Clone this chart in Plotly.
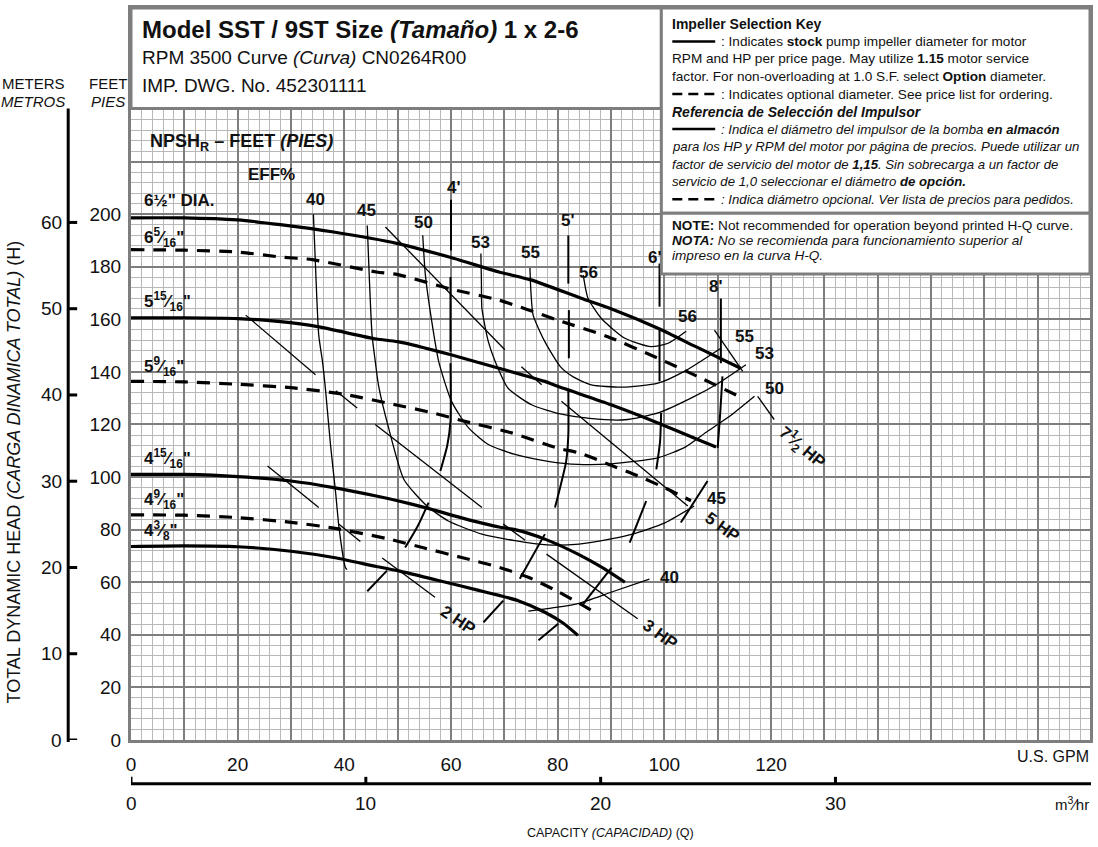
import plotly.graph_objects as go

# ---------------- data (capacity in US GPM, head in feet) ----------------
# impeller head curves
d650_q = [0, 10, 20, 28, 38, 50, 60, 69, 75, 84.4, 90, 98.8, 106, 114.3]
d650_h = [198.6, 198.6, 197.8, 196, 193.2, 188.8, 183.5, 178, 175, 168, 164, 156.6, 149.5, 141.4]
d6516_q = [0, 10, 20, 28, 34, 46, 50, 60, 69, 80, 89.4, 98.8, 106, 114]
d6516_h = [186.5, 186.3, 185.6, 183.7, 182.7, 178, 177, 171.5, 167.3, 159.7, 153.4, 145.2, 138.5, 130.7]
d51516_q = [0, 10, 20, 28, 35, 46, 50, 60, 69, 77.6, 80, 90, 98.8, 109.7]
d51516_h = [160.6, 160.6, 160.3, 159.1, 157.2, 152.5, 151.5, 146.5, 141.4, 136.4, 134.5, 127.5, 120.6, 111.4]
d5916_q = [0, 10, 20, 30, 40, 50, 56, 63, 71.4, 80, 84, 90, 95, 100, 105]
d5916_h = [136.4, 136.2, 135.3, 134, 131.5, 127.3, 124.7, 121, 116.8, 111, 109.2, 104.5, 100.5, 96, 91]
d41516_q = [0, 10, 20, 30, 38, 46, 50, 55.5, 62, 69, 72, 77.6, 83.8, 88, 92.6]
d41516_h = [101, 101, 100.2, 98.5, 96, 92.8, 91, 88.2, 84.5, 81, 80, 76.4, 70.7, 66, 60]
d4916_q = [0, 10, 20, 30, 38, 48, 55, 62, 69, 74.5, 80, 87]
d4916_h = [85.6, 85.5, 84.6, 82.8, 80.6, 76.6, 73, 69.4, 65.7, 61.9, 56.5, 48.6]
d438_q = [0, 10, 20, 30, 38, 46, 50, 59, 65, 69, 72.6, 77.6, 81, 83.8]
d438_h = [73.6, 73.8, 73.5, 71.8, 69.4, 66, 64.4, 60, 57, 55, 53, 48.6, 44.5, 39.8]

# efficiency iso-lines
eff40_q = [34.2, 34.6, 35.2, 35.9, 36.5, 37.4, 38.4, 39.0, 40.2, 40.5]
eff40_h = [200, 180, 154, 144, 132.6, 112.4, 93.4, 80.8, 65.6, 64.8]
eff40b_q = [74.5, 80, 84, 90, 97.2]
eff40b_h = [49, 50.5, 52, 56.2, 61.2]
eff45_q = [44.3, 44.7, 45.2, 45.8, 46.4, 48.3, 51.2, 55.5, 59.5, 65.8, 72, 78, 84, 90, 94, 100, 105.6]
eff45_h = [195.7, 175, 154, 144, 135, 118.7, 99, 89, 83.3, 78.3, 75.8, 74.2, 74.5, 76.5, 78.3, 82.5, 89]
eff50_q = [54.7, 55.2, 56.4, 57.7, 60.1, 63.3, 67, 72, 78.2, 83.8, 90, 98.8, 104, 108.1, 112.5, 116.9]
eff50_h = [192, 176.8, 159.1, 143.9, 128.8, 118.7, 112.4, 108.6, 106, 104.8, 105, 107.3, 111.5, 117.4, 123.5, 130.7]
eff53_q = [65.6, 65.7, 65.8, 67, 68.3, 70.7, 75.1, 80.5, 86, 92.6, 99, 105, 110, 115.3]
eff53_h = [185, 175, 164.1, 151.5, 143.9, 133.8, 127.5, 124, 122.3, 121.8, 124.5, 130, 135.5, 142.7]
eff55_q = [74.8, 75, 75.4, 77.6, 80.5, 83, 86.3, 92, 98.8, 104, 110.6]
eff55_h = [179.5, 170, 161.6, 151.5, 142, 138, 135.1, 134.2, 135.7, 140.5, 149]
eff56_q = [84.8, 85.2, 85.7, 88.2, 92.6, 97.5, 100.7, 104.1]
eff56_h = [176.8, 172, 167.9, 160.3, 152.8, 149.6, 150.9, 155.5]

# NPSHr lines (broken where printed with gaps)
npsh4_q = [60.0, 60.0, None, 59.9, 59.9, None, 59.9, 59.9, 59.3, 58.0, None, 55.8, 53.8, 51.4, None, 48.0, 44.3]
npsh4_h = [205.5, 186.2, None, 176.1, 147.7, None, 143.3, 121.2, 112, 102.3, None, 90.3, 81.5, 73.2, None, 64.4, 56.6]
npsh5_q = [82, 82, None, 82.1, 82.1, None, 82, 82, 81.6, 79.5, None, 77.6, 72.9, None, 69.8, 66.1]
npsh5_h = [191.9, 173.6, None, 163.5, 145.2, None, 132.6, 116.2, 106.1, 88.4, None, 78.3, 61.3, None, 53, 44.8]
npsh6_q = [99.1, 99.1, None, 99.1, 99.1, None, 99.4, 99.2, 98.5, None, 96.6, 93.5, None, 90.1, 84.8, None, 80.1, 76.4]
npsh6_h = [181.2, 164.8, None, 156.6, 136.4, None, 124.4, 113.6, 102.9, None, 90.9, 75.1, None, 65.6, 51.8, None, 44.2, 37.9]
npsh8_q = [110.6, 110.6, None, 110.9, 110.5, 110, None, 108.1, 103.1]
npsh8_h = [167.9, 143.3, None, 138.3, 125, 111.1, None, 98.5, 82.7]

# motor horsepower limit lines
hp2_q = [25.6, 35.2, None, 39, 43, None, 47.1, 57]
hp2_h = [104.2, 88.4, None, 82.1, 75.5, None, 69.2, 54.3]
hp3_q = [21.5, 34.6, None, 38.4, 42.4, None, 45.8, 65.8, None, 69.8, 73.9, None, 77.9, 95]
hp3_h = [161.6, 138.9, None, 132.8, 126.3, None, 120, 88.4, None, 82.1, 76, None, 70.7, 46.1]
hp5_q = [47.7, 70.1, None, 73.2, 77, None, 80.7, 104.4]
hp5_h = [195.1, 148.4, None, 142, 135.1, None, 128.8, 89]
hp75_q = [109.4, 114.7, None, 117.5, 120.6]
hp75_h = [155.9, 140.2, None, 130.7, 121.9]

# axis tick labels
gpm_ticks = [0, 20, 40, 60, 80, 100, 120]
feet_ticks = [0, 20, 40, 60, 80, 100, 120, 140, 160, 180, 200]
meter_ticks = [0, 10, 20, 30, 40, 50, 60]
m3hr_ticks = [0, 10, 20, 30]
FT_PER_M = 3.28084
GPM_PER_M3HR = 4.40287

# ---------------- layout geometry ----------------
W, H = 1098, 847
L, R, T, B = 131, 5, 5, 107
PW, PH = W - L - R, H - T - B
XMAX = PW / 5.35
YMAX = PH / 2.64


def px(x):
    return (x - L) / PW


def py(y):
    return (H - B - y) / PH


NARROW = "Liberation Sans, Arial, Helvetica, sans-serif"
SANS = "Liberation Sans, Arial, Helvetica, sans-serif"
GRID_MAJ = "#7e7e7e"
GRID_MIN = "#b8b8b8"

fig = go.Figure()


def line(q, h, width, dash=None):
    fig.add_trace(go.Scatter(x=q, y=h, mode="lines", connectgaps=False,
                             line=dict(color="black", width=width, dash=dash, shape="spline", smoothing=0.6),
                             hoverinfo="skip", showlegend=False))


DASH = "13px,9px"
line(d650_q, d650_h, 3.2)
line(d6516_q, d6516_h, 3.2, DASH)
line(d51516_q, d51516_h, 3.2)
line(d5916_q, d5916_h, 3.2, DASH)
line(d41516_q, d41516_h, 3.2)
line(d4916_q, d4916_h, 3.2, DASH)
line(d438_q, d438_h, 3.2)

for q, h in [(eff40_q, eff40_h), (eff40b_q, eff40b_h), (eff45_q, eff45_h), (eff50_q, eff50_h),
             (eff53_q, eff53_h), (eff55_q, eff55_h), (eff56_q, eff56_h)]:
    line(q, h, 1.3)

for q, h in [(npsh4_q, npsh4_h), (npsh5_q, npsh5_h), (npsh6_q, npsh6_h), (npsh8_q, npsh8_h)]:
    line(q, h, 2.0)

for q, h in [(hp2_q, hp2_h), (hp3_q, hp3_h), (hp5_q, hp5_h), (hp75_q, hp75_h)]:
    fig.add_trace(go.Scatter(x=q, y=h, mode="lines", connectgaps=False,
                             line=dict(color="black", width=1.3),
                             hoverinfo="skip", showlegend=False))

ann = []


def text(x, y, s, size, family=NARROW, xanchor="left", yanchor="middle",
         xref="paper", yref="paper", angle=0, color="#111"):
    ann.append(dict(x=x, y=y, xref=xref, yref=yref, text=s, showarrow=False,
                    xanchor=xanchor, yanchor=yanchor, textangle=angle,
                    font=dict(family=family, size=size, color=color)))


# chart labels (data coordinates)
def dtext(x, y, s, size=17, xanchor="center", angle=0, family=SANS):
    text(x, y, "<b>%s</b>" % s, size, family=family, xanchor=xanchor, xref="x", yref="y", angle=angle)


dtext(2.0, 205.3, "6½\" DIA.", xanchor="left")
dtext(2.0, 191.3, "6<sup>5</sup>⁄<sub>16</sub>\"", xanchor="left")
dtext(2.0, 166.7, "5<sup>15</sup>⁄<sub>16</sub>\"", xanchor="left")
dtext(2.0, 142.0, "5<sup>9</sup>⁄<sub>16</sub>\"", xanchor="left")
dtext(2.0, 107.2, "4<sup>15</sup>⁄<sub>16</sub>\"", xanchor="left")
dtext(2.0, 91.3, "4<sup>9</sup>⁄<sub>16</sub>\"", xanchor="left")
dtext(2.0, 79.5, "4<sup>3</sup>⁄<sub>8</sub>\"", xanchor="left")

dtext(26.3, 215.2, "EFF%")
for qq, hh, s in [(34.5, 205.7, "40"), (44.2, 201.5, "45"), (54.9, 197, "50"), (65.5, 189.4, "53"),
                  (74.9, 185.6, "55"), (85.7, 178, "56"), (104.4, 161, "56"), (115.0, 153.4, "55"),
                  (118.8, 147, "53"), (120.6, 133.7, "50"), (109.8, 92, "45"), (100.9, 61.8, "40"),
                  (60.5, 210.2, "4'"), (82.0, 197.7, "5'"), (98.3, 183.7, "6'"), (109.7, 172.3, "8'")]:
    dtext(qq, hh, s)

dtext(125.9, 111.1, "7<sup>1</sup>⁄<sub>2</sub> HP", angle=40)
dtext(110.9, 80.7, "5 HP", angle=36)
dtext(99.2, 40.0, "3 HP", angle=36)
dtext(61.4, 45.5, "2 HP", angle=34)

text(px(148), py(140), "<b>NPSH<sub>R</sub> – FEET <i>(PIES)</i></b>", 18, family=SANS)

# title box
text(px(140), py(27), "<b>Model SST / 9ST Size <i>(Tamaño)</i> 1 x 2-6</b>", 24, family=SANS)
text(px(140), py(55), "RPM 3500 Curve <i>(Curva)</i> CN0264R00", 19)
text(px(140), py(83), "IMP. DWG. No. 452301111", 19)

# key box
key_rows = [
    ("<b>Impeller Selection Key</b>", None),
    (": Indicates <b>stock</b> pump impeller diameter for motor", "solid"),
    ("RPM and HP per price page. May utilize <b>1.15</b> motor service", None),
    ("factor. For non-overloading at 1.0 S.F. select <b>Option</b> diameter.", None),
    (": Indicates optional diameter. See price list for ordering.", "dash"),
    ("<b><i>Referencia de Selección del Impulsor</i></b>", None),
    ("<i>: Indica el diámetro del impulsor de la bomba <b>en almacón</b></i>", "solid"),
    ("<i>para los HP y RPM del motor por página de precios. Puede utilizar un</i>", None),
    ("<i>factor de servicio del motor de <b>1,15</b>. Sin sobrecarga a un factor de</i>", None),
    ("<i>servicio de 1,0 seleccionar el diámetro <b>de opción.</b></i>", None),
    ("<i>: Indica diámetro opcional. Ver lista de precios para pedidos.</i>", "dash"),
]
key_sizes = [14, 13.6, 13.6, 13.6, 13.6, 14, 13.2, 13.2, 13.2, 13.2, 13.2]
shapes = []
row_y = [21 + i * 17.6 for i in range(len(key_rows))]
for (s, sample), yy, fs in zip(key_rows, row_y, key_sizes):
    if sample is None:
        text(px(672), py(yy), s, fs)
    else:
        shapes.append(dict(type="line", xref="paper", yref="paper", x0=px(674), x1=px(717),
                           y0=py(yy), y1=py(yy), layer="above",
                           line=dict(color="black", width=2.5, dash=None if sample == "solid" else "10px,6px")))
        text(px(721), py(yy), s, fs)

note_rows = ["<b>NOTE:</b> Not recommended for operation beyond printed H-Q curve.",
             "<b><i>NOTA:</i></b><i> No se recomienda para funcionamiento superior al</i>",
             "<i>impreso en la curva H-Q.</i>"]
for i, s in enumerate(note_rows):
    text(px(672), py(223 + i * 15.5), s, 13.6)

# boxes
BOX = dict(color=GRID_MAJ, width=3)
shapes.insert(0, dict(type="rect", xref="paper", yref="paper", x0=px(131), x1=px(663), y0=py(106), y1=py(5),
                      fillcolor="white", line=BOX, layer="above"))
shapes.insert(1, dict(type="rect", xref="paper", yref="paper", x0=px(663), x1=px(1093), y0=py(211), y1=py(5),
                      fillcolor="white", line=BOX, layer="above"))
shapes.insert(2, dict(type="rect", xref="paper", yref="paper", x0=px(663), x1=px(1093), y0=py(272), y1=py(211),
                      fillcolor="white", line=BOX, layer="above"))

# metres axis (left)
MX = px(68)
shapes.append(dict(type="line", xref="paper", yref="paper", x0=MX, x1=MX, y0=py(742), y1=py(106),
                   line=dict(color="black", width=3)))
for m in meter_ticks:
    shapes.append(dict(type="line", xref="paper", yref="y", x0=MX, x1=px(77), y0=m * FT_PER_M, y1=m * FT_PER_M,
                       line=dict(color="black", width=3)))
    text(px(64), m * FT_PER_M, str(m), 19, xanchor="right", yref="y")

text(px(33), py(81), "METERS", 15, xanchor="center")
text(px(33), py(99), "<i>METROS</i>", 15, xanchor="center")
text(px(108), py(81), "FEET", 15, xanchor="center")
text(px(108), py(99), "<i>PIES</i>", 15, xanchor="center")
text(px(14), py(471), "TOTAL DYNAMIC HEAD <i>(CARGA DINAMICA TOTAL)</i> (H)", 18, xanchor="center", angle=-90)

# m3/hr axis (bottom)
shapes.append(dict(type="line", xref="paper", yref="paper", x0=px(131), x1=px(1094), y0=py(784), y1=py(784),
                   line=dict(color="black", width=3)))
for v in m3hr_ticks:
    shapes.append(dict(type="line", xref="x", yref="paper", x0=v * GPM_PER_M3HR, x1=v * GPM_PER_M3HR,
                       y0=py(784), y1=py(777), line=dict(color="black", width=3)))
    text(v * GPM_PER_M3HR, py(804), str(v), 19, xanchor="center", xref="x")
text(px(1094), py(804), "m<sup>3</sup>⁄hr", 15, xanchor="right")
text(px(1094), py(757), "U.S. GPM", 16, xanchor="right")
text(px(612), py(833), "CAPACITY <i>(CAPACIDAD)</i> (Q)", 12.5, xanchor="center")

xt = list(range(0, 181, 10))
yt = list(range(0, 281, 20))
fig.update_layout(
    width=W, height=H, margin=dict(l=L, r=R, t=T, b=B, pad=0),
    paper_bgcolor="white", plot_bgcolor="white",
    annotations=ann, shapes=shapes, showlegend=False,
    xaxis=dict(range=[0, XMAX], tickmode="array", tickvals=xt,
               ticktext=[str(v) if v in gpm_ticks else "" for v in xt],
               showgrid=True, gridcolor=GRID_MAJ, gridwidth=2.4, zeroline=False,
               showline=True, mirror=True, linecolor=GRID_MAJ, linewidth=3, ticks="",
               ticklabelstandoff=5,
               tickfont=dict(family=NARROW, size=19, color="#111"),
               minor=dict(tickmode="linear", tick0=0, dtick=2, showgrid=True, gridcolor=GRID_MIN, gridwidth=1.3)),
    yaxis=dict(range=[0, YMAX], tickmode="array", tickvals=yt,
               ticktext=[str(v) if v in feet_ticks else "" for v in yt],
               showgrid=True, gridcolor=GRID_MAJ, gridwidth=2.4, zeroline=False,
               showline=True, mirror=True, linecolor=GRID_MAJ, linewidth=3, ticks="",
               ticklabelstandoff=3,
               tickfont=dict(family=NARROW, size=19, color="#111"),
               minor=dict(tickmode="linear", tick0=0, dtick=4, showgrid=True, gridcolor=GRID_MIN, gridwidth=1.3)),
)

fig.write_html("out.html", config={"displayModeBar": False})
